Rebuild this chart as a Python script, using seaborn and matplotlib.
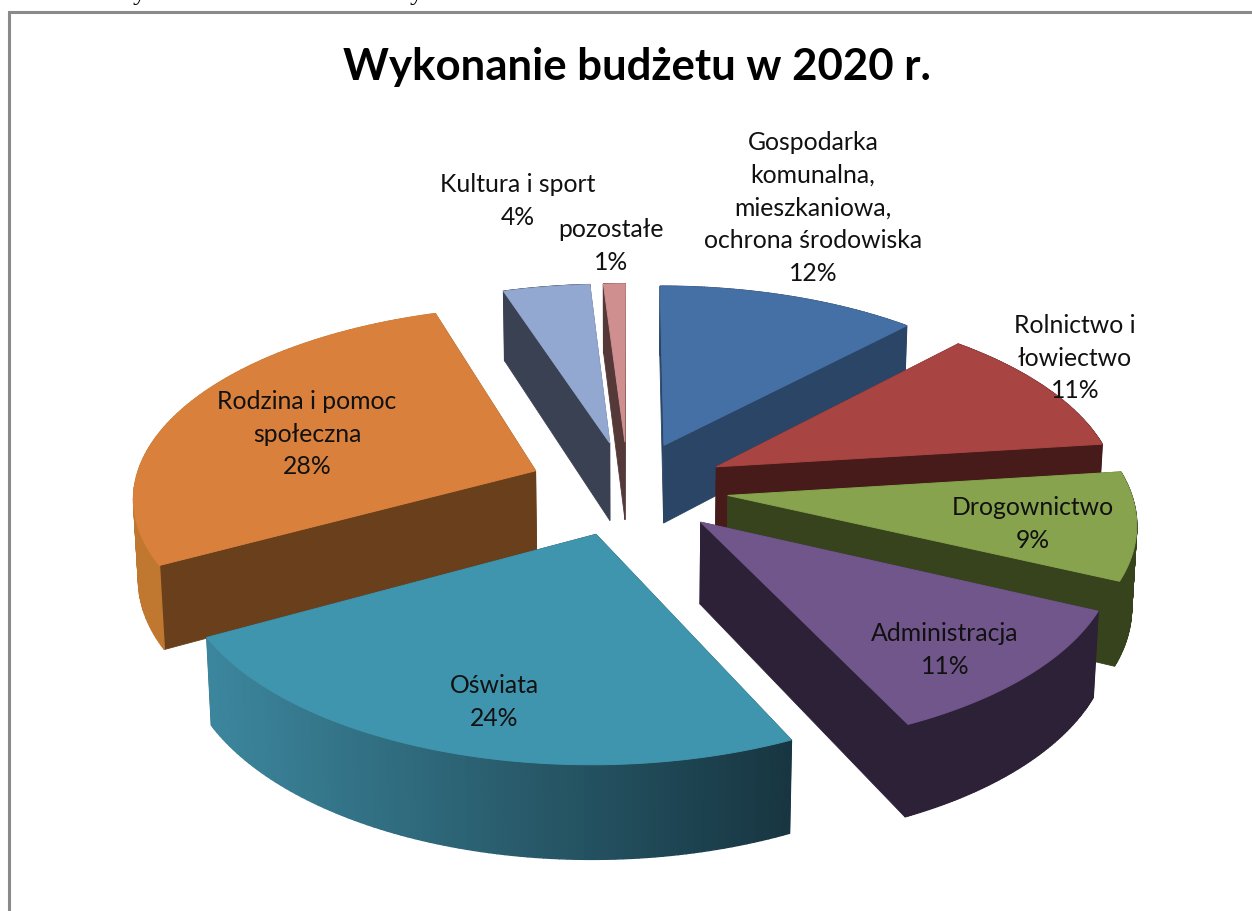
import numpy as np
import matplotlib
matplotlib.use("Agg")
import matplotlib.pyplot as plt
from matplotlib.colors import to_rgb
import seaborn as sns

categories = ["Gospodarka\nkomunalna,\nmieszkaniowa,\nochrona środowiska", "Rolnictwo i\nłowiectwo",
              "Drogownictwo", "Administracja", "Oświata", "Rodzina i pomoc\nspołeczna",
              "Kultura i sport", "pozostałe"]
shares = [12, 11, 9, 11, 24, 28, 4, 1]
title = "Wykonanie budżetu w 2020 r."

top_hex = ["#4570a6", "#a84442", "#87a34d", "#71568b", "#4095ae", "#d9813c", "#93a8d0", "#ce8f8e"]
cut_hex = ["#2a4565", "#461b1a", "#36431d", "#2d2138", "#1a3a44", "#6a3f1b", "#3a4152", "#553939"]
rim_light = ["#2a4565", "#461b1a", "#36431d", "#2d2138", "#3c869d", "#c0772f", "#3a4152", "#553939"]
rim_dark = ["#2a4565", "#461b1a", "#36431d", "#2d2138", "#173540", "#c0772f", "#3a4152", "#553939"]
draw_order = [6, 7, 0, 1, 2, 5, 3, 4]
label_xy = [(813, 208), (1075, 358), (1033, 524), (945, 650), (494, 702), (307, 434), (518, 201), (611, 246)]

CX, CY, RX, RY, PERSP, EXPLODE, DEPTH = 628, 488, 402, 189, 0.125, 0.25, 80

sns.set_theme(style="white")
plt.rcParams['font.family'] = ['Lato', 'DejaVu Sans']
tops = sns.color_palette(top_hex)

fig = plt.figure(figsize=(12.52, 9.11), dpi=100, facecolor="white")
ax = fig.add_axes([0, 0, 1, 1])
ax.set_xlim(0, 1252)
ax.set_ylim(911, 0)
ax.axis("off")


def project(X, Y, lower=False):
    w = 1 - PERSP * Y
    if lower:
        return CX + RX * X / (w + 0.01), CY + (RY * Y + DEPTH) / w
    return CX + RX * X / w, CY + RY * Y / w


def mix(a, b, f):
    a, b = np.array(to_rgb(a)), np.array(to_rgb(b))
    return tuple(a + (b - a) * f)


bounds = 2 * np.pi * np.cumsum([0] + shares) / sum(shares)
for i in draw_order:
    t0, t1 = bounds[i], bounds[i + 1]
    mid = (t0 + t1) / 2
    ox, oy = EXPLODE * np.sin(mid), -EXPLODE * np.cos(mid)
    ts = np.linspace(t0, t1, 90)
    xr, yr = ox + np.sin(ts), oy - np.cos(ts)
    ux, uy = project(xr, yr)
    lx, ly = project(xr, yr, True)
    px, py = project(ox, oy)
    qx, qy = project(ox, oy, True)
    # flat cut faces
    for k in (0, -1):
        ax.fill([px, ux[k], lx[k], qx], [py, uy[k], ly[k], qy], color=cut_hex[i], lw=0.6)
    # curved outer wall, strip by strip (the top face hides whatever lies behind it)
    for k in range(len(ts) - 1):
        f = float(np.clip((ux[k] - 210) / (797 - 210), 0, 1))
        ax.fill([ux[k], ux[k + 1], lx[k + 1], lx[k]], [uy[k], uy[k + 1], ly[k + 1], ly[k]],
                color=mix(rim_light[i], rim_dark[i], f), lw=1.0)
    # top face
    ax.fill(np.r_[px, ux], np.r_[py, uy], color=tops[i], lw=0.7)

for name, share, (x, y) in zip(categories, shares, label_xy):
    ax.text(x, y, f"{name}\n{share}%", ha="center", va="center", fontsize=17.8,
            linespacing=1.52, color="#111111", zorder=5)

ax.text(637, 67, title, ha="center", va="center", fontsize=31.5, fontweight="bold", color="black", zorder=5)

# chart frame (top and left edges only are in view) and the line of page text cut off above it
ax.plot([9, 9, 1252], [911, 12, 12], color="#8a8a8a", lw=2.2, solid_joinstyle="miter", zorder=6)
for x in (139, 416):
    ax.text(x, 0, "y", ha="center", va="baseline", fontsize=19, family="Liberation Serif", color="black")

fig.savefig("out.png", dpi=100, facecolor="white")
